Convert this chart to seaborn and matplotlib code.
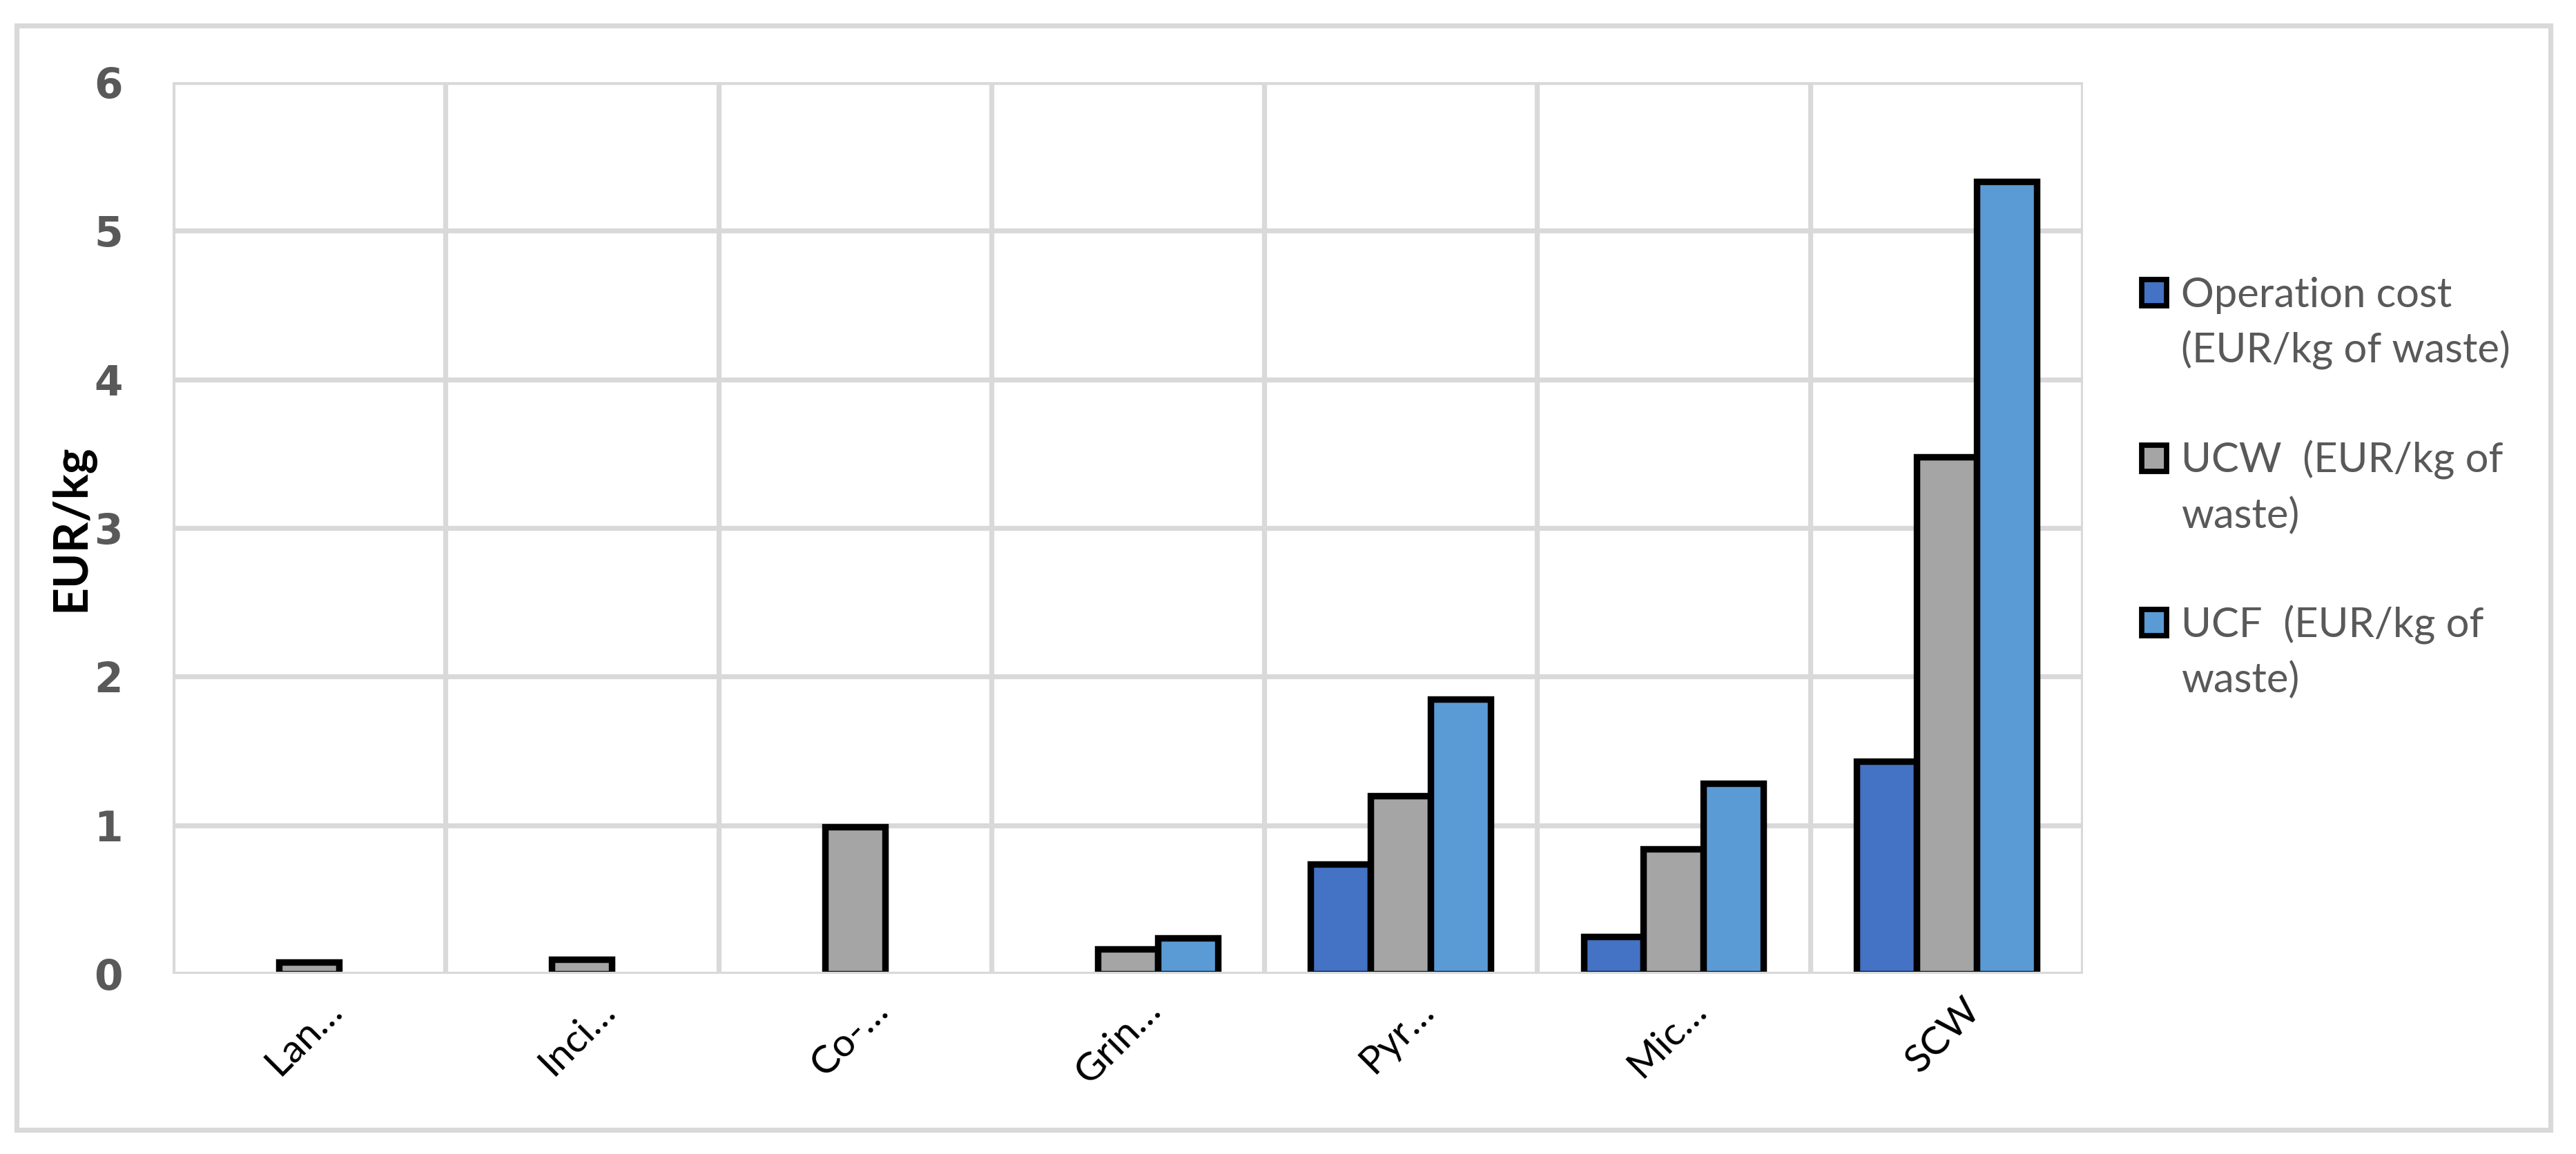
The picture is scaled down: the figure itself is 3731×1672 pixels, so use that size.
"""Excel-style grouped bar chart: unit costs per treatment process."""

import matplotlib.pyplot as plt
import matplotlib.transforms as mtransforms
import numpy as np
import pandas as pd
import seaborn as sns
from matplotlib.patches import Rectangle

PROCESSES = ["Lan…", "Inci…", "Co-…", "Grin…", "Pyr…", "Mic…", "SCW"]
SERIES = ["Operation cost (EUR/kg of waste)", "UCW  (EUR/kg of waste)", "UCF  (EUR/kg of waste)"]
LEGEND_LINES = [["Operation cost", "(EUR/kg of waste)"],
                ["UCW  (EUR/kg of", "waste)"],
                ["UCF  (EUR/kg of", "waste)"]]

OPERATION_COST = [np.nan, np.nan, np.nan, np.nan, 0.74, 0.25, 1.43]
UCW = [0.08, 0.10, 0.99, 0.17, 1.20, 0.84, 3.48]
UCF = [np.nan, np.nan, np.nan, 0.24, 1.85, 1.28, 5.33]

COLORS = ["#4472C4", "#A5A5A5", "#5B9BD5"]
GRID = "#D9D9D9"
TEXT = "#595959"

sns.set_theme(style="white")
plt.rcParams["font.family"] = ["Lato", "DejaVu Sans"]

df = pd.DataFrame({
    "process": PROCESSES * 3,
    "series": np.repeat(SERIES, len(PROCESSES)),
    "value": OPERATION_COST + UCW + UCF,
})

fig = plt.figure(figsize=(18.655, 8.36), dpi=200)
ax = fig.add_axes([0.067, 0.156, 0.7416, 0.773])

sns.barplot(
    data=df, x="process", y="value", hue="series", order=PROCESSES,
    hue_order=SERIES, palette=COLORS, saturation=1, width=0.66,
    edgecolor="black", linewidth=3.4, errorbar=None, legend=False,
    ax=ax, zorder=3,
)

ax.set_xlim(-0.5, len(PROCESSES) - 0.5)
ax.set_ylim(0, 6)
ax.set_yticks(range(7))
ax.grid(False)
for y in range(7):
    ax.axhline(y, color=GRID, lw=2.6, zorder=1 if y else 4)
for x in np.arange(-0.5, len(PROCESSES)):
    ax.axvline(x, color=GRID, lw=2.6, zorder=1)
for s in ax.spines.values():
    s.set_visible(False)

ax.tick_params(axis="both", which="both", length=0)
ax.tick_params(axis="y", pad=26)
for lab in ax.get_yticklabels():
    lab.set_fontfamily("DejaVu Sans")
    lab.set_fontweight("bold")
    lab.set_fontsize(21.5)
    lab.set_color(TEXT)
ax.set_xticks(range(len(PROCESSES)))
ax.set_xticklabels(PROCESSES, rotation=45, ha="right", va="center",
                   rotation_mode="anchor", fontsize=20.5, color="black")
ax.tick_params(axis="x", pad=16)
shift = mtransforms.ScaledTranslation(0.2, 0.0, fig.dpi_scale_trans)
for lab in ax.get_xticklabels():
    lab.set_transform(lab.get_transform() + shift)
ax.set_xlabel("")
ax.set_ylabel("EUR/kg", fontsize=25, fontweight="bold", color="black", labelpad=0)

# legend: one row per text line, handle only on the first line of each entry
handles, labels = [], []
for color, lines in zip(COLORS, LEGEND_LINES):
    handles.append(Rectangle((0, 0), 1, 1, facecolor=color, edgecolor="black", lw=2.8))
    labels.append(lines[0])
    handles.append(Rectangle((0, 0), 1, 1, alpha=0))
    labels.append(lines[1])
    handles.append(Rectangle((0, 0), 1, 1, alpha=0))
    labels.append(" ")
handles, labels = handles[:-1], labels[:-1]
leg = fig.legend(handles, labels, loc="center left", bbox_to_anchor=(0.817, 0.577),
                 frameon=False, fontsize=21.5, labelcolor=TEXT, handlelength=0.6,
                 handleheight=0.6, handletextpad=0.35, labelspacing=0.4)

fig.patches.append(Rectangle((0.0064, 0.021), 0.9836, 0.957, transform=fig.transFigure,
                             fill=False, edgecolor=GRID, lw=2.6))

fig.savefig("out.png", dpi=200)
